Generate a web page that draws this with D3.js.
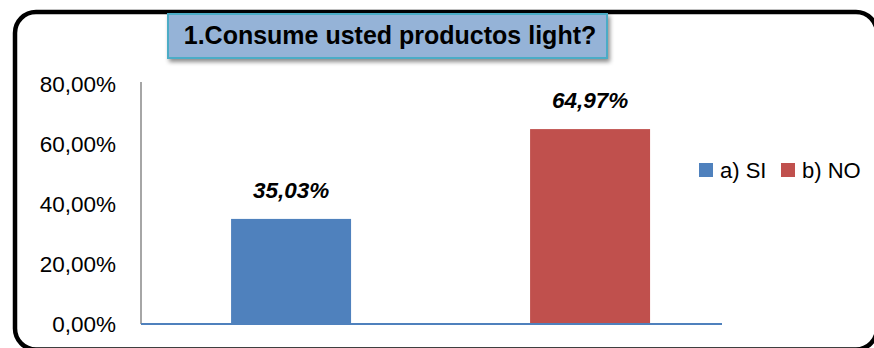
<!DOCTYPE html>
<html>
<head>
<meta charset="utf-8">
<script src="https://cdn.jsdelivr.net/npm/d3@7/dist/d3.min.js"></script>
<style>
  html, body { margin: 0; padding: 0; background: #fff; }
  svg { display: block; }
</style>
</head>
<body>
<svg id="chart" width="874" height="348"></svg>
<script>
// Survey answers for question 1
const categories = ["a) SI", "b) NO"];
const values = [0.3503, 0.6497];
const colors = ["#4F81BD", "#C0504D"];
const yTicks = [0, 0.2, 0.4, 0.6, 0.8];
const title = "1.Consume usted productos light?";

const locale = d3.formatLocale({ decimal: ",", thousands: ".", grouping: [3], currency: ["", " €"] });
const pct = locale.format(".2%");

const svg = d3.select("#chart");
const FONT = "'Liberation Sans', Arial, sans-serif";

// Drop shadow for the title box
const defs = svg.append("defs");
const f = defs.append("filter").attr("id", "shadow")
  .attr("x", "-10%").attr("y", "-30%").attr("width", "120%").attr("height", "170%");
f.append("feDropShadow").attr("dx", 2).attr("dy", 3).attr("stdDeviation", 2)
  .attr("flood-color", "#000").attr("flood-opacity", 0.45);

// Rounded chart frame
svg.append("rect")
  .attr("x", 15).attr("y", 12).attr("width", 862).attr("height", 337.5)
  .attr("rx", 21).attr("ry", 21)
  .attr("fill", "#fff").attr("stroke", "#000").attr("stroke-width", 4.5);

// Scales
const plotLeft = 141, plotRight = 722, plotBottom = 324;
const y = d3.scaleLinear().domain([0, 0.8]).range([plotBottom, 84]);
const x = d3.scaleBand().domain(categories).range([plotLeft, plotRight])
  .paddingInner(0.5987).paddingOuter(0.2709).align(0.556);

// Y axis
const yAxis = svg.append("g")
  .attr("transform", `translate(${plotLeft},0)`)
  .call(d3.axisLeft(y).tickValues(yTicks).tickFormat(pct).tickSize(0).tickSizeOuter(0).tickPadding(25));
yAxis.select(".domain").attr("stroke", "#898989").attr("stroke-width", 1.5)
  .attr("d", `M0,${plotBottom}V82`);
yAxis.selectAll("text")
  .attr("font-family", FONT).attr("font-size", 22.5).attr("fill", "#000");

// Bars
svg.append("g").selectAll("rect").data(categories).join("rect")
  .attr("x", d => x(d))
  .attr("y", (d, i) => y(values[i]))
  .attr("width", x.bandwidth())
  .attr("height", (d, i) => plotBottom - y(values[i]))
  .attr("fill", (d, i) => colors[i]);

// Category baseline
svg.append("line")
  .attr("x1", plotLeft).attr("x2", plotRight)
  .attr("y1", plotBottom).attr("y2", plotBottom)
  .attr("stroke", "#4F81BD").attr("stroke-width", 2);

// Value labels
svg.append("g").selectAll("text").data(categories).join("text")
  .attr("x", d => x(d) + x.bandwidth() / 2)
  .attr("y", (d, i) => y(values[i]) - 21)
  .attr("text-anchor", "middle")
  .attr("font-family", FONT).attr("font-size", 22.5)
  .attr("font-weight", "bold").attr("font-style", "italic")
  .text((d, i) => pct(values[i]));

// Title box
const tg = svg.append("g");
tg.append("rect")
  .attr("x", 168).attr("y", 14).attr("width", 439).attr("height", 44)
  .attr("fill", "#95B3D7").attr("stroke", "#4BACC6").attr("stroke-width", 2)
  .attr("filter", "url(#shadow)");
tg.append("text")
  .attr("x", 390).attr("y", 44)
  .attr("text-anchor", "middle")
  .attr("font-family", FONT).attr("font-size", 25).attr("font-weight", "bold")
  .attr("fill", "#000")
  .text(title);

// Legend
const legendX = [699, 781];
const lg = svg.append("g").selectAll("g").data(categories).join("g")
  .attr("transform", (d, i) => `translate(${legendX[i]},163)`);
lg.append("rect").attr("width", 14).attr("height", 14).attr("fill", (d, i) => colors[i]);
lg.append("text")
  .attr("x", 21).attr("y", 15)
  .attr("font-family", FONT).attr("font-size", 22).attr("fill", "#000")
  .text(d => d);
</script>
</body>
</html>
